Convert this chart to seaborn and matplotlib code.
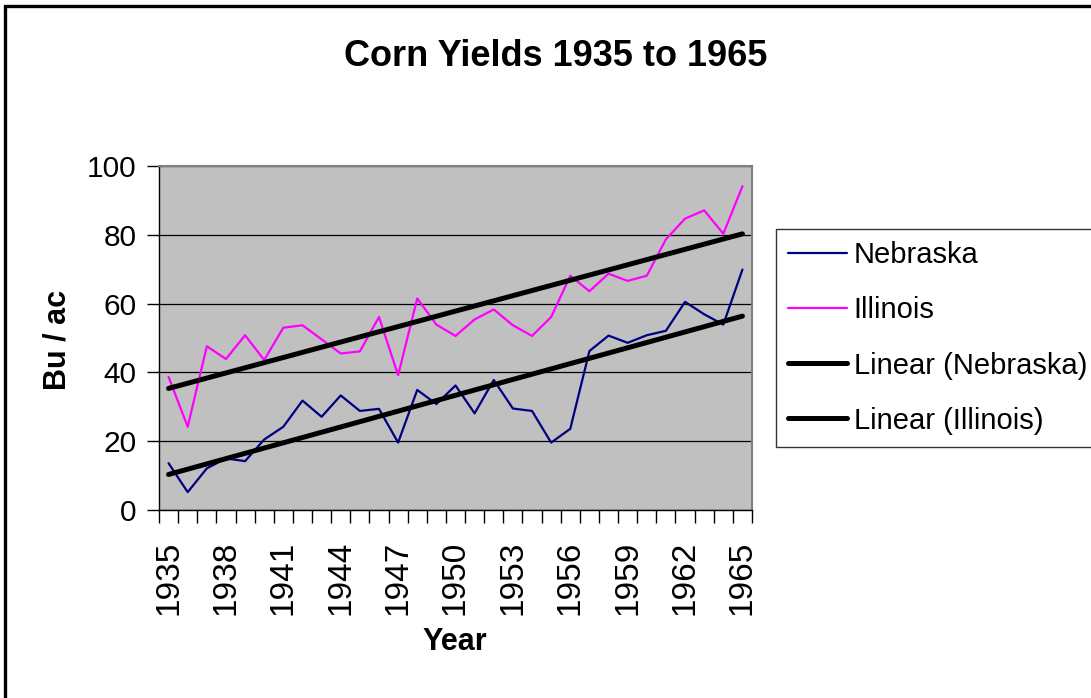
import numpy as np
import pandas as pd
import matplotlib
matplotlib.use("Agg")
import matplotlib.pyplot as plt
from matplotlib.patches import Rectangle
from matplotlib.ticker import FixedLocator, NullFormatter
import seaborn as sns

years = list(range(1935, 1966))
nebraska = [13.6, 5.2, 12.1, 15.0, 14.2, 20.5, 24.2, 31.8, 27.1, 33.3, 28.8, 29.4,
            19.6, 34.9, 30.8, 36.2, 28.1, 37.8, 29.5, 28.8, 19.6, 23.6, 46.2, 50.7,
            48.6, 50.8, 52.1, 60.5, 56.9, 53.9, 69.9]
illinois = [38.7, 24.2, 47.6, 43.9, 50.8, 43.6, 53.0, 53.7, 49.6, 45.5, 46.1, 56.1,
            39.2, 61.5, 53.9, 50.6, 55.4, 58.3, 53.7, 50.6, 56.1, 68.1, 63.6, 68.7,
            66.6, 68.1, 78.7, 84.7, 87.1, 80.3, 94.1]
tick_years = years[::3]

idx = np.arange(len(years))
df = pd.DataFrame({"idx": idx, "Year": years, "Nebraska": nebraska, "Illinois": illinois})

sns.set_theme(style="white")
plt.rcParams["font.family"] = ["Liberation Sans", "DejaVu Sans"]
plt.rcParams["text.color"] = "black"
plt.rcParams["xtick.color"] = "black"
plt.rcParams["ytick.color"] = "black"
plt.rcParams["axes.labelcolor"] = "black"

W, H = 1091, 698
fig = plt.figure(figsize=(W / 100, H / 100), dpi=100)
ax = fig.add_axes([159 / W, 1 - 510 / H, (752 - 159) / W, (510 - 166) / H])
ax.set_facecolor("#C0C0C0")

sns.lineplot(data=df, x="idx", y="Nebraska", ax=ax, color="#000080", lw=1.6, label="Nebraska")
sns.lineplot(data=df, x="idx", y="Illinois", ax=ax, color="#FF00FF", lw=1.6, label="Illinois")
sns.regplot(data=df, x="idx", y="Nebraska", ax=ax, scatter=False, ci=None, truncate=True,
            label="Linear (Nebraska)",
            line_kws=dict(color="black", lw=3.6, solid_capstyle="round"))
sns.regplot(data=df, x="idx", y="Illinois", ax=ax, scatter=False, ci=None, truncate=True,
            label="Linear (Illinois)",
            line_kws=dict(color="black", lw=3.6, solid_capstyle="round"))

ax.set_xlim(-0.5, len(years) - 0.5)
ax.set_ylim(0, 100)
ax.set_yticks(np.arange(0, 101, 20))
ax.yaxis.grid(True, color="black", lw=0.9)
ax.xaxis.grid(False)
ax.set_axisbelow(True)

ax.set_xticks([years.index(y) for y in tick_years])
ax.set_xticklabels([str(y) for y in tick_years], rotation=90)
ax.xaxis.set_minor_locator(FixedLocator(np.arange(-0.5, len(years), 1.0)))
ax.xaxis.set_minor_formatter(NullFormatter())
ax.tick_params(axis="x", which="major", length=0, pad=22, labelsize=24)
ax.tick_params(axis="x", which="minor", length=9, width=1, color="black", direction="out", bottom=True)
ax.tick_params(axis="y", which="major", length=9, width=1, color="black", direction="out", left=True,
               labelsize=21.5, pad=7)
ax.set_xlabel("")
ax.set_ylabel("")

for s in ["left", "bottom"]:
    ax.spines[s].set_color("black")
    ax.spines[s].set_linewidth(1.0)
for s in ["top", "right"]:
    ax.spines[s].set_color("#808080")
    ax.spines[s].set_linewidth(1.5)

handles, labels = ax.get_legend_handles_labels()
if ax.get_legend():
    ax.get_legend().remove()
leg = fig.legend(handles, labels, loc="upper left", bbox_to_anchor=(776 / W, 1 - 229 / H),
                 bbox_transform=fig.transFigure, fontsize=21, frameon=True, fancybox=False,
                 handlelength=2.0, handletextpad=0.25, labelspacing=0.93, borderpad=0.42,
                 borderaxespad=0)
leg.get_frame().set_edgecolor("black")
leg.get_frame().set_linewidth(1.0)

fig.text(556 / W, 1 - 57 / H, "Corn Yields 1935 to 1965", ha="center", va="center",
         fontsize=26, fontweight="bold")
fig.text(455 / W, 1 - 642 / H, "Year", ha="center", va="center", fontsize=22, fontweight="bold")
fig.text(57 / W, 1 - 340 / H, "Bu / ac", ha="center", va="center", rotation=90,
         fontsize=22, fontweight="bold")

fig.patches.append(Rectangle((5 / W, -0.1), 1.2, (1 - 6 / H) + 0.1, transform=fig.transFigure,
                             fill=False, edgecolor="black", lw=2.4, zorder=10))

fig.savefig("out.png", dpi=100)
